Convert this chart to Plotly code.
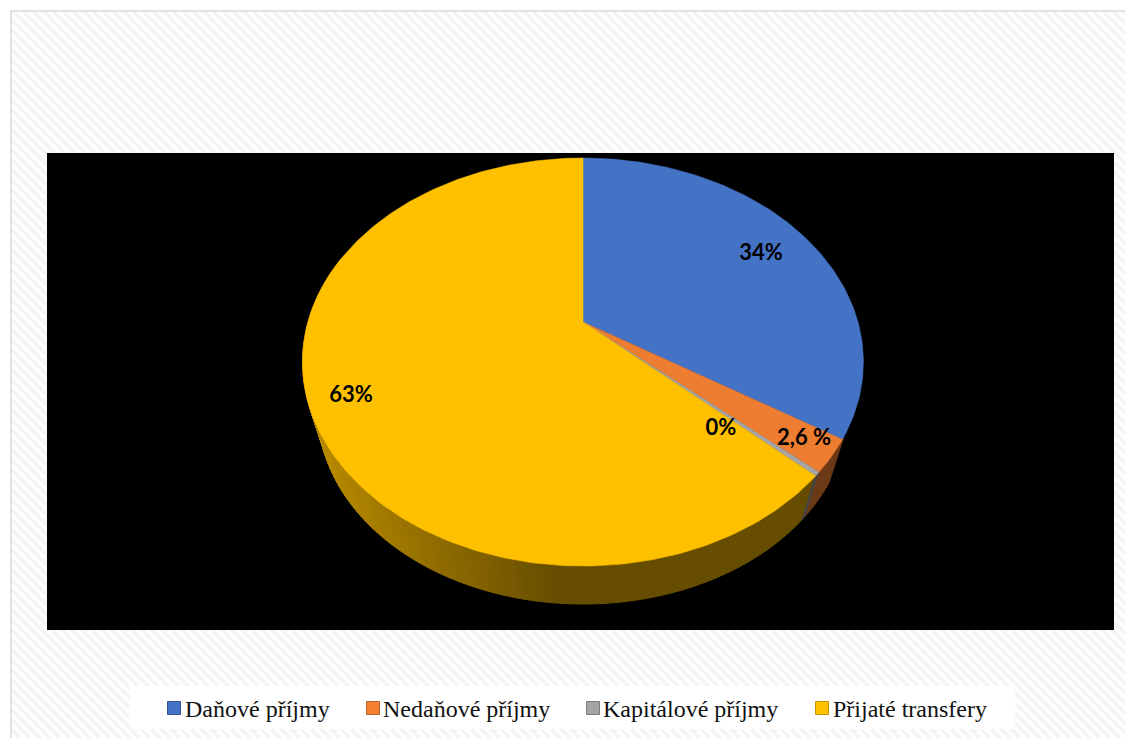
import math
import plotly.graph_objects as go

# ---- data ----
categories = ["Daňové příjmy", "Nedaňové příjmy", "Kapitálové příjmy", "Přijaté transfery"]
values = [34.0, 2.6, 0.3, 63.1]
value_labels = ["34%", "2,6 %", "0%", "63%"]
colors = ["#4472C4", "#ED7D31", "#A5A5A5", "#FFC000"]
legend_colors = ["#4472C4", "#F58233", "#A5A5A5", "#FFC000"]
side_strength = [0.50, 0.46, 0.42, 0.40]

# ---- layout constants (pixels of the 1125x738 frame) ----
W, H = 1125, 738
APEX_X, APEX_Y = 583, 322
RADIUS, VERT, PERSP = 275.0, 196.2, 0.1961
VP_Y, DEPTH_SCALE = 1244, 0.944
LABEL_X = [761, 804, 721, 351]
LABEL_Y = [254, 439, 429, 396]
LEGEND_X = [174, 373, 593, 822]
LEGEND_TEXT_X = [186, 384, 604, 834]
LEGEND_Y = 708
LEGEND_TEXT_Y = 709


def rim(theta):
    """Point on the tilted pie rim; theta runs clockwise from twelve o'clock."""
    c, s = math.sin(theta), math.cos(theta)
    w = 1 + PERSP * s
    return APEX_X + RADIUS * c / w, APEX_Y - VERT * s / w


def lower(px, py):
    return APEX_X + (px - APEX_X) * DEPTH_SCALE, VP_Y + (py - VP_Y) * DEPTH_SCALE


total = sum(values)
edges = [0.0]
for v in values:
    edges.append(edges[-1] + v / total * 2 * math.pi)


def mix(hex_color, f):
    r, g, b = (int(hex_color[i:i + 2], 16) for i in (1, 3, 5))
    return f"rgb({round(r * f)},{round(g * f)},{round(b * f)})"


fig = go.Figure()

# extruded side, drawn first so the top hides everything but the front band
side_start, side_end = math.radians(121.8), math.radians(290)
n_side = 130
for i in range(n_side):
    t0 = side_start + (side_end - side_start) * i / n_side
    t1 = side_start + (side_end - side_start) * (i + 1) / n_side
    mid = (t0 + t1) / 2
    k = next(j for j in range(len(values)) if mid < edges[j + 1])
    a0, a1 = rim(t0), rim(t1)
    b0, b1 = lower(*a0), lower(*a1)
    ramp = min(1.0, max(0.0, (a0[0] - 320) / 240))
    strength = side_strength[k] + (0.72 - side_strength[k]) * (1 - ramp)
    col = mix(colors[k], strength)
    fig.add_trace(go.Scatter(
        x=[a0[0], a1[0], b1[0], b0[0], a0[0]],
        y=[a0[1], a1[1], b1[1], b0[1], a0[1]],
        mode="lines", fill="toself", fillcolor=col,
        line=dict(color=col, width=1), showlegend=False, hoverinfo="skip"))

# top face
for k, name in enumerate(categories):
    steps = max(2, int((edges[k + 1] - edges[k]) / math.radians(1)))
    pts = [rim(edges[k] + (edges[k + 1] - edges[k]) * j / steps) for j in range(steps + 1)]
    xs = [APEX_X] + [p[0] for p in pts] + [APEX_X]
    ys = [APEX_Y] + [p[1] for p in pts] + [APEX_Y]
    fig.add_trace(go.Scatter(
        x=xs, y=ys, mode="lines", fill="toself", fillcolor=colors[k],
        line=dict(color=colors[k], width=0.5), name=name, showlegend=False,
        hoverinfo="name"))

# value labels
fig.add_trace(go.Scatter(
    x=LABEL_X, y=LABEL_Y, mode="text", text=value_labels,
    textfont=dict(family="Lato", size=22, color="#000000", weight="bold"),
    showlegend=False, hoverinfo="skip"))

# legend row
for k, name in enumerate(categories):
    fig.add_trace(go.Scatter(
        x=[LEGEND_X[k]], y=[LEGEND_Y], mode="markers",
        marker=dict(symbol="square", size=13, color=legend_colors[k],
                    line=dict(color=mix(legend_colors[k], 0.75), width=1)),
        showlegend=False, hoverinfo="skip"))
    fig.add_annotation(
        x=LEGEND_TEXT_X[k], y=LEGEND_TEXT_Y, text=name, showarrow=False,
        xanchor="left", yanchor="middle", xshift=-3,
        font=dict(family="Liberation Serif", size=24, color="#111111"))

# background: hatch, frame, black plot panel, white legend box
hatch = []
for c in range(-H, W + H, 10):
    hatch.append(f"M{c},0 L{c + H},{H}")
shapes = [
    dict(type="path", path=" ".join(hatch), line=dict(color="#F5F5F5", width=4),
         layer="below", xref="x", yref="y"),
    dict(type="rect", x0=0, x1=W, y0=0, y1=10, fillcolor="white", line_width=0, layer="below", xref="x", yref="y"),
    dict(type="rect", x0=0, x1=10, y0=0, y1=H, fillcolor="white", line_width=0, layer="below", xref="x", yref="y"),
    dict(type="rect", x0=10, x1=W, y0=10, y1=12, fillcolor="#E2E2E2", line_width=0, layer="below", xref="x", yref="y"),
    dict(type="rect", x0=10, x1=12, y0=10, y1=H, fillcolor="#E2E2E2", line_width=0, layer="below", xref="x", yref="y"),
    dict(type="rect", x0=47, x1=1114, y0=153, y1=630, fillcolor="#000000", line_width=0, layer="below", xref="x", yref="y"),
    dict(type="rect", x0=130, x1=1015, y0=686, y1=729, fillcolor="#FFFFFF", line_width=0, layer="below", xref="x", yref="y"),
]

fig.update_layout(
    width=W, height=H, margin=dict(l=0, r=0, t=0, b=0),
    paper_bgcolor="white", plot_bgcolor="white", shapes=shapes, showlegend=False,
    xaxis=dict(range=[0, W], visible=False, fixedrange=True),
    yaxis=dict(range=[H, 0], visible=False, fixedrange=True),
)

fig.write_html("out.html", config=dict(displayModeBar=False),
               post_script="document.body.style.margin='0';document.documentElement.style.overflow='hidden';")
